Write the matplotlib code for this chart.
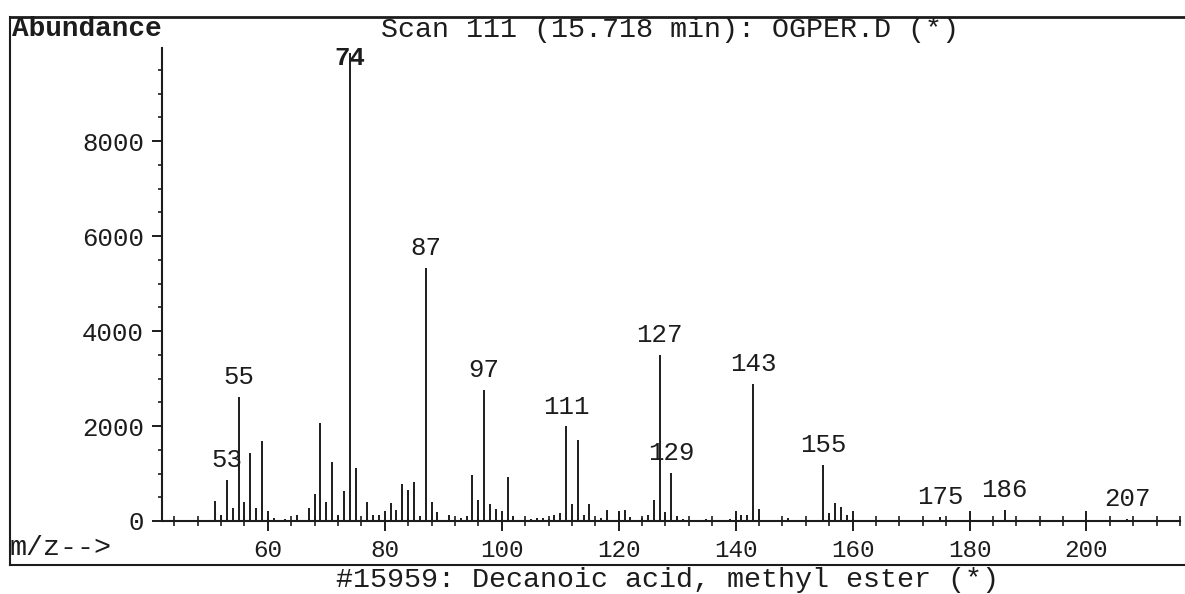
"""
Mass spectrum plot: scan 111 of OGPER.D, library hit decanoic acid methyl ester.
"""
import numpy as np
import matplotlib
matplotlib.use("Agg")
import matplotlib.pyplot as plt
from matplotlib.lines import Line2D
from matplotlib.ticker import MultipleLocator

# m/z values and abundances
mz = [51, 52, 53, 54, 55, 56, 57, 58, 59, 60, 61, 63, 65, 67, 68, 69, 70, 71,
      72, 73, 74, 75, 77, 78, 79, 81, 82, 83, 84, 85, 86, 87, 88, 89, 91, 93,
      94, 95, 96, 97, 98, 99, 101, 102, 105, 106, 107, 108, 109, 110, 111,
      112, 113, 114, 115, 117, 118, 120, 121, 122, 124, 125, 126, 127, 128,
      129, 130, 131, 135, 139, 140, 141, 142, 143, 144, 149, 155, 156, 157,
      158, 159, 160, 175, 186, 207]
abundance = [430, 120, 870, 270, 2610, 400, 1430, 270, 1690, 90, 60, 40, 120,
             270, 570, 2070, 400, 1250, 120, 640, 9850, 1120, 400, 120, 120,
             370, 230, 780, 650, 820, 100, 5330, 410, 180, 120, 60, 100, 970,
             440, 2760, 350, 250, 930, 100, 50, 60, 60, 50, 120, 160, 1990,
             360, 1700, 120, 360, 60, 230, 190, 230, 80, 60, 120, 440, 3490,
             200, 1020, 100, 50, 40, 50, 80, 120, 120, 2880, 250, 60, 1180,
             170, 370, 300, 120, 50, 90, 230, 50]

labelled_mz = [53, 55, 74, 87, 97, 111, 127, 129, 143, 155, 175, 186, 207]

y_ticks = [0, 2000, 4000, 6000, 8000]
x_ticks = [60, 80, 100, 120, 140, 160, 180, 200]

title_text = "Scan 111 (15.718 min): OGPER.D (*)"
hit_text = "#15959: Decanoic acid, methyl ester (*)"

MONO = ["Liberation Mono", "DejaVu Sans Mono"]
INK = "#1c1c1c"

fig = plt.figure(figsize=(11.85, 5.94), dpi=100)
ax = fig.add_axes([162 / 1185, 73 / 594, 1018 / 1185, 473 / 594])

ax.vlines(mz, 0, abundance, color=INK, linewidth=1.4)

lookup = dict(zip(mz, abundance))
ymax = 9960
for m in labelled_mz:
    ypos = min(lookup[m] + 420, ymax - 210)
    ax.text(m, ypos, str(m), ha="center", va="center", fontsize=18.5,
            family=MONO, color=INK, fontweight="bold" if m == 74 else "normal")

ax.set_xlim(41.9, 216)
ax.set_ylim(0, ymax)

for side in ("top", "right"):
    ax.spines[side].set_visible(False)
for side in ("left", "bottom"):
    ax.spines[side].set_linewidth(1.5)
    ax.spines[side].set_color(INK)

ax.set_xticks(x_ticks)
ax.xaxis.set_minor_locator(MultipleLocator(4))
ax.set_yticks(y_ticks)
ax.yaxis.set_minor_locator(MultipleLocator(500))
ax.tick_params(axis="x", which="major", direction="inout", length=14, width=1.4,
               pad=6, labelsize=17.5, colors=INK)
ax.tick_params(axis="x", which="minor", direction="inout", length=7, width=1.2,
               colors=INK)
ax.tick_params(axis="y", which="major", direction="out", length=7, width=1.4,
               pad=6, labelsize=18.5, colors=INK)
ax.tick_params(axis="y", which="minor", direction="out", length=3, width=1.2,
               colors=INK)
for lbl in ax.get_xticklabels() + ax.get_yticklabels():
    lbl.set_family(MONO)

# border lines around the printout
x0, x1 = 10 / 1185, 1.0
y_top, y_bot = 1 - 17 / 594, 1 - 565 / 594
fig.add_artist(Line2D([x0, x1], [y_top, y_top], color=INK, linewidth=2.0))
fig.add_artist(Line2D([x0, x0], [y_bot, y_top], color=INK, linewidth=1.5))
fig.add_artist(Line2D([x0, x1], [y_bot, y_bot], color=INK, linewidth=1.5))

fig.text(12 / 1185, 1 - 29 / 594, "Abundance", ha="left", va="center",
         fontsize=20, family=MONO, fontweight="bold", color=INK)
fig.text(670 / 1185, 1 - 30 / 594, title_text, ha="center", va="center",
         fontsize=20.4, family=MONO, color=INK)
fig.text(10 / 1185, 1 - 548 / 594, "m/z-->", ha="left", va="center",
         fontsize=20.4, family=MONO, color=INK)
fig.text(668 / 1185, 1 - 580 / 594, hit_text, ha="center", va="center",
         fontsize=20.4, family=MONO, color=INK)

fig.savefig("out.png", dpi=100)
